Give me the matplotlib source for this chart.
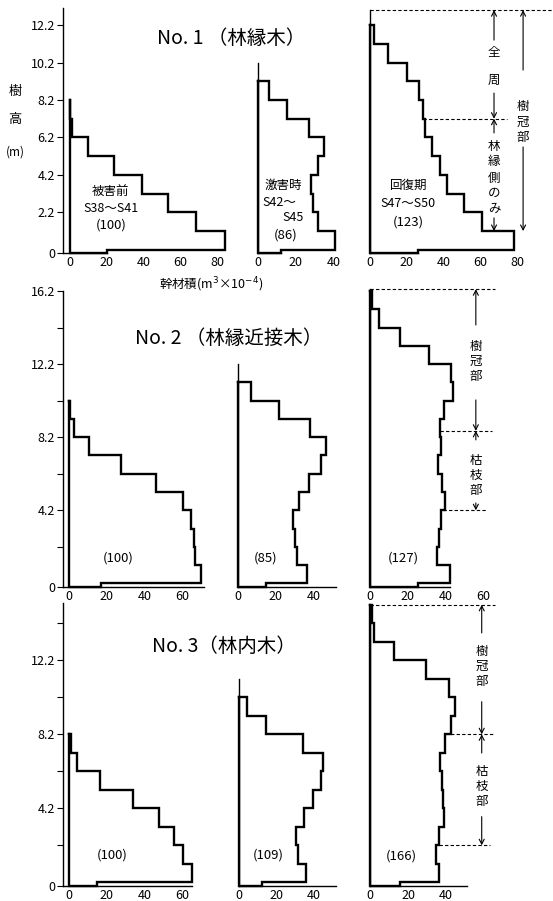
import numpy as np
import matplotlib.pyplot as plt

plt.rcParams['font.family'] = ['Noto Sans CJK JP', 'DejaVu Sans']

W, H = 553, 901

# stem volume per height section: stump (0-0.2 m), then 1 m sections upward
r1_before = [20, 84, 68.5, 53, 39, 24, 10, 1.4, 0.4]
r1_damage = [12, 41, 32, 29, 28, 32, 35, 27, 15, 5.5]
r1_recover = [26, 78.5, 61, 51, 42, 38, 33.5, 30, 29, 26.5, 20, 10, 2.4]

r2_before = [17, 70.5, 67, 66.5, 65, 60.5, 46.5, 27.5, 10.5, 2.5, 0.5]
r2_damage = [15, 36.5, 31.5, 30, 29, 32.5, 37.5, 44, 47, 38.5, 21.5, 7]
r2_recover = [25.5, 42.3, 35.6, 36.5, 37.4, 39.7, 37.9, 36.2, 37.5, 37, 39.2,
              44, 42.8, 31.2, 15.9, 4.9, 1]

r3_before = [14.6, 65.3, 60.8, 55.8, 48, 34, 16.4, 4.3, 1]
r3_damage = [12, 36, 31.4, 30.5, 35, 39.4, 44, 44.8, 34, 14.2, 4]
r3_recover = [16, 36.5, 34.7, 36.5, 39, 38.6, 37.7, 36.8, 39.5, 42.6, 44.7,
              41.6, 29.5, 12.6, 2.3, 1]

titles = ['No. 1 （林縁木）', 'No. 2 （林縁近接木）', 'No. 3（林内木）']
index_labels = [['(100)', '(86)', '(123)'], ['(100)', '(85)', '(127)'], ['(100)', '(109)', '(166)']]
tree_top = [13.0, 16.3, 15.2]          # dashed top line of the recovery panels
crown_base = [7.2, 8.55, 8.2]          # lower end of crown
dead_branch_base = [None, 4.2, 2.2]    # lower end of dead-branch zone
ytick_major = [[0, 2.2, 4.2, 6.2, 8.2, 10.2, 12.2], [0, 4.2, 8.2, 12.2, 16.2], [0, 4.2, 8.2, 12.2]]
ytick_minor = [[], [2.2, 6.2, 10.2, 14.2], [2.2, 6.2, 10.2, 14.2]]

fig = plt.figure(figsize=(W / 100, H / 100), dpi=100)

# layout (pixels): row baseline, px per m, ylim
rows = [dict(y0=253.5, ys=18.72, ylim=(0, 13.1)),
        dict(y0=587, ys=18.27, ylim=(0, 16.35)),
        dict(y0=886, ys=18.5, ylim=(0, 15.35))]
# per panel: x0 px, px per unit, xlim, xticks, bottom spine end, left spine top
panels = [
    [dict(x0=69.5, xs=1.85, xlim=(-3.4, 88), xt=[0, 20, 40, 60, 80], xb=20, yt=13.1),
     dict(x0=258.3, xs=1.88, xlim=(0, 44), xt=[0, 20, 40], xb=12, yt=10.2),
     dict(x0=370, xs=1.84, xlim=(0, 84), xt=[0, 20, 40, 60, 80], xb=26, yt=13.0)],
    [dict(x0=69.3, xs=1.875, xlim=(-3.2, 74), xt=[0, 20, 40, 60], xb=72, yt=16.2),
     dict(x0=238.3, xs=1.875, xlim=(0, 52), xt=[0, 20, 40], xb=52, yt=12.2),
     dict(x0=370, xs=1.89, xlim=(0, 62), xt=[0, 20, 40, 60], xb=42.3, yt=16.3)],
    [dict(x0=69.3, xs=1.875, xlim=(-3.2, 70), xt=[0, 20, 40, 60], xb=65.3, yt=15.3),
     dict(x0=239.3, xs=1.86, xlim=(0, 52), xt=[0, 20, 40], xb=52, yt=11.2),
     dict(x0=370, xs=1.9, xlim=(0, 52), xt=[0, 20, 40], xb=51, yt=15.2)],
]
data = [[r1_before, r1_damage, r1_recover],
        [r2_before, r2_damage, r2_recover],
        [r3_before, r3_damage, r3_recover]]


def outline(vals):
    edges = np.concatenate([[0, 0.2], 1.2 + np.arange(len(vals) - 1)])
    xs, ys = [0], [edges[-1]]
    for i in range(len(vals) - 1, -1, -1):
        xs += [vals[i], vals[i]]
        ys += [edges[i + 1], edges[i]]
    xs += [0, 0]
    ys += [0, edges[-1]]
    return xs, ys


def arrow(ax, x, y_from, y_to):
    ax.annotate('', xy=(x, y_to), xytext=(x, y_from), annotation_clip=False,
                arrowprops=dict(arrowstyle='->,head_length=0.35,head_width=0.18',
                                lw=0.8, color='k', shrinkA=0, shrinkB=0))


def dashed(ax, x1, x2, y):
    ax.plot([x1, x2], [y, y], color='k', lw=0.8, ls=(0, (3, 2)), clip_on=False)


def vtext(ax, x, ys, chars, size=9):
    for y, c in zip(ys, chars):
        ax.text(x, y, c, ha='center', va='center', fontsize=size, clip_on=False)


axes = []
for r, row in enumerate(rows):
    axrow = []
    for p, pan in enumerate(panels[r]):
        xl = pan['xlim']
        left = pan['x0'] + xl[0] * pan['xs']
        right = pan['x0'] + xl[1] * pan['xs']
        bot = row['y0'] - row['ylim'][0] * row['ys']
        top = row['y0'] - row['ylim'][1] * row['ys']
        ax = fig.add_axes([left / W, 1 - bot / H, (right - left) / W, (bot - top) / H])
        ax.set_xlim(xl)
        ax.set_ylim(row['ylim'])
        ax.patch.set_alpha(0)
        ax.spines[['top', 'right']].set_visible(False)
        ax.spines['left'].set_bounds(0, pan['yt'])
        ax.spines['bottom'].set_bounds(xl[0], pan['xb'])
        for s in ['left', 'bottom']:
            ax.spines[s].set_linewidth(1.0)
        ax.set_xticks(pan['xt'])
        ax.set_xticklabels([str(v) for v in pan['xt']])
        ax.tick_params(axis='x', length=0, pad=2, labelsize=9)
        if p == 0:
            ax.set_yticks(ytick_major[r])
            ax.set_yticklabels(['0' if v == 0 else f'{v:.1f}' for v in ytick_major[r]])
            ax.set_yticks(ytick_minor[r], minor=True)
            ax.tick_params(axis='y', which='both', direction='out', length=4, width=0.8,
                           pad=2, labelsize=9)
        else:
            ax.set_yticks([])
        xs, ys = outline(data[r][p])
        ax.plot(xs, ys, color='k', lw=1.7, solid_joinstyle='miter', clip_on=False)
        axrow.append(ax)
    axes.append(axrow)

# index labels
lab_pos = [[(22.4, 1.5), (14.7, 0.99), (20.8, 1.7)],
           [(26, 1.57), (14.4, 1.57), (17.6, 1.57)],
           [(23, 1.68), (15.6, 1.68), (16.7, 1.6)]]
for r in range(3):
    for p in range(3):
        x, y = lab_pos[r][p]
        axes[r][p].text(x, y, index_labels[r][p], ha='center', va='center', fontsize=9.5)

# row 1 period labels
a = axes[0][0]
a.text(22.4, 3.29, '被害前', ha='center', va='center', fontsize=9)
a.text(22.4, 2.43, 'S38～S41', ha='center', va='center', fontsize=9)
b = axes[0][1]
b.text(13.1, 3.66, '激害時', ha='center', va='center', fontsize=9)
b.text(2.3, 2.7, 'S42～', ha='left', va='center', fontsize=9)
b.text(18.5, 1.9, 'S45', ha='center', va='center', fontsize=9)
c = axes[0][2]
c.text(20.8, 3.66, '回復期', ha='center', va='center', fontsize=9)
c.text(20.8, 2.68, 'S47～S50', ha='center', va='center', fontsize=9)

# row 1 crown annotations
c = axes[0][2]
dashed(c, 0, 99.5, tree_top[0])
dashed(c, 28.8, 74.5, crown_base[0])
xa, xb2 = 67.4, 83.2
arrow(c, xa, 11.4, tree_top[0])
vtext(c, xa, [10.76, 9.27], '全周')
arrow(c, xa, 8.57, crown_base[0])
arrow(c, xa, 6.44, crown_base[0])
vtext(c, xa, [5.69, 4.89, 4.03, 3.23, 2.43], '林縁側のみ')
arrow(c, xa, 1.9, 1.2)
arrow(c, xb2, 9.8, tree_top[0])
vtext(c, xb2, [7.83, 7.02, 6.22], '樹冠部')
arrow(c, xb2, 5.69, 1.2)

# row 2 crown / dead-branch annotations
c = axes[1][2]
dashed(c, 0, 66, tree_top[1])
xa = 56
arrow(c, xa, 14.34, tree_top[1])
vtext(c, xa, [13.15, 12.33, 11.51], '樹冠部')
arrow(c, xa, 10.24, crown_base[1])
dashed(c, 37, 64.5, crown_base[1])
arrow(c, xa, 8.05, crown_base[1])
vtext(c, xa, [6.95, 6.13, 5.31], '枯枝部')
arrow(c, xa, 4.6, dead_branch_base[1])
dashed(c, 38.6, 62, dead_branch_base[1])

# row 3 crown / dead-branch annotations
c = axes[2][2]
dashed(c, 0, 65.8, tree_top[2])
xa = 58.8
arrow(c, xa, 13.68, tree_top[2])
vtext(c, xa, [12.66, 11.85, 11.04], '樹冠部')
arrow(c, xa, 9.96, crown_base[2])
dashed(c, 39.5, 65.8, crown_base[2])
arrow(c, xa, 7.19, crown_base[2])
vtext(c, xa, [6.18, 5.37, 4.56], '枯枝部')
arrow(c, xa, 3.75, dead_branch_base[2])
dashed(c, 36.5, 63, dead_branch_base[2])

# titles and axis labels
title_pos = [(157, 38), (135, 338), (152, 647)]
for (x, y), t in zip(title_pos, titles):
    fig.text(x / W, 1 - y / H, t, ha='left', va='center', fontsize=14)

fig.text(15 / W, 1 - 92 / H, '樹', ha='center', va='center', fontsize=9.5)
fig.text(15 / W, 1 - 120 / H, '高', ha='center', va='center', fontsize=9.5)
fig.text(15 / W, 1 - 152 / H, '(m)', ha='center', va='center', fontsize=8.5)
fig.text(211 / W, 1 - 285 / H, '幹材積(m$^3$×10$^{-4}$)', ha='center', va='center', fontsize=9)

fig.savefig('out.png', dpi=100, facecolor='white')
